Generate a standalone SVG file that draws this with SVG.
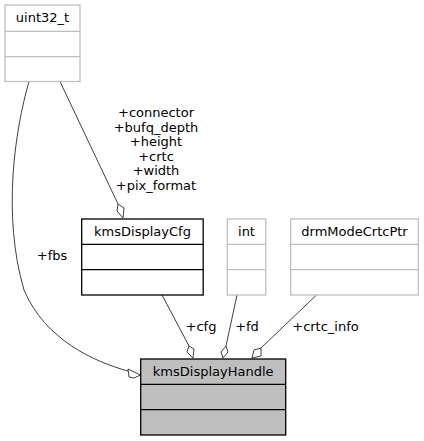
<svg xmlns="http://www.w3.org/2000/svg" width="424" height="441" viewBox="0 0 424 441">
<style>
text { font-family: "DejaVu Sans", "Liberation Sans", sans-serif; font-size: 13px; fill: #000; }
.t { text-anchor: middle; }
.lbl { text-anchor: middle; }
.ext rect, .ext line { stroke: #bfbfbf; fill: #fff; stroke-width: 1.3; }
.cls rect, .cls line { stroke: #000; fill: #fff; stroke-width: 1.3; }
.main rect, .main line { stroke: #000; fill: #bfbfbf; stroke-width: 1.3; }
.edge path { fill: none; stroke: #404040; stroke-width: 1; }
.edge polygon { fill: #fff; stroke: #404040; stroke-width: 1; }
</style>
<rect width="424" height="441" fill="#fff"/>
<g id="connectors" class="edge">
  <path d="M29,81.5 C15,130 2,215 24,290 C45,340 95,362 128,371"/>
  <polygon points="140.5,375 128,369 129,377 134,378"/>
  <path d="M60,81.5 L118,204"/>
  <polygon points="123,218 124,208 118,204 117,211"/>
  <path d="M162,295 L189,346"/>
  <polygon points="193,358 194,349 189,346 187,352"/>
  <path d="M237,295 L226,346"/>
  <polygon points="223,358 228,352 226,346 221,352"/>
  <path d="M316.5,295 L261,348"/>
  <polygon points="252,358 261,356 261,348 254,350"/>
</g>
<g id="labels">
  <text x="52" y="260" class="lbl">+fbs</text>
  <text x="156" y="117" class="lbl">+connector</text>
  <text x="156" y="131.5" class="lbl">+bufq_depth</text>
  <text x="156" y="146" class="lbl">+height</text>
  <text x="156" y="160.5" class="lbl">+crtc</text>
  <text x="156" y="175" class="lbl">+width</text>
  <text x="156" y="189.5" class="lbl">+pix_format</text>
  <text x="201" y="330.5" class="lbl">+cfg</text>
  <text x="247" y="330.5" class="lbl">+fd</text>
  <text x="325.5" y="330.5" class="lbl">+crtc_info</text>
</g>
<g id="uint32_t" class="ext">
  <rect x="5" y="5" width="75" height="76.5"/>
  <line x1="5" y1="31.3" x2="80" y2="31.3"/>
  <line x1="5" y1="56.7" x2="80" y2="56.7"/>
  <text x="42.5" y="22" class="t">uint32_t</text>
</g>
<g id="kmsDisplayCfg" class="cls">
  <rect x="81.7" y="219" width="121.5" height="76"/>
  <line x1="81.7" y1="244.3" x2="203.2" y2="244.3"/>
  <line x1="81.7" y1="269.7" x2="203.2" y2="269.7"/>
  <text x="142.5" y="236" class="t">kmsDisplayCfg</text>
</g>
<g id="int" class="ext">
  <rect x="227.3" y="219" width="38.5" height="76"/>
  <line x1="227.3" y1="244.3" x2="265.8" y2="244.3"/>
  <line x1="227.3" y1="269.7" x2="265.8" y2="269.7"/>
  <text x="246.5" y="236" class="t">int</text>
</g>
<g id="drmModeCrtcPtr" class="ext">
  <rect x="290.7" y="219" width="127.6" height="76"/>
  <line x1="290.7" y1="244.3" x2="418.3" y2="244.3"/>
  <line x1="290.7" y1="269.7" x2="418.3" y2="269.7"/>
  <text x="354.5" y="236" class="t">drmModeCrtcPtr</text>
</g>
<g id="kmsDisplayHandle" class="main">
  <rect x="140.7" y="359" width="145" height="76"/>
  <line x1="140.7" y1="384.3" x2="285.7" y2="384.3"/>
  <line x1="140.7" y1="409.7" x2="285.7" y2="409.7"/>
  <text x="213.2" y="376" class="t">kmsDisplayHandle</text>
</g>
</svg>
